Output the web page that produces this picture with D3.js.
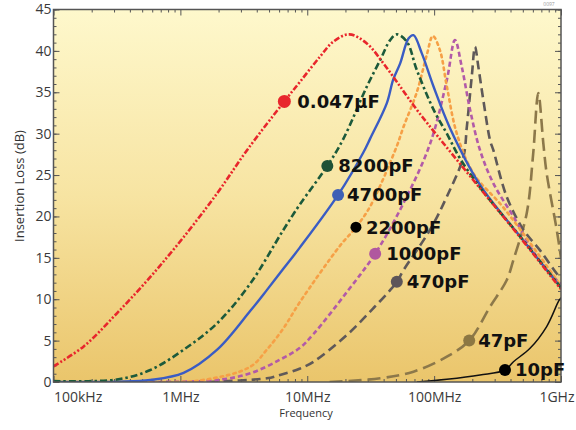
<!DOCTYPE html>
<html><head><meta charset="utf-8">
<script src="https://cdn.jsdelivr.net/npm/d3@7/dist/d3.min.js"></script>
<style>body{margin:0;background:#fff}svg{display:block}</style>
</head><body><svg id="c" width="576" height="430"></svg>
<script>
// ---------- DATA (frequency in MHz, insertion loss in dB) ----------
const seriesNames = ["0.047μF","8200pF","4700pF","2200pF","1000pF","470pF","47pF","10pF"];

const freq047uF = [0.1,0.173,0.316,0.58,1.06,1.95,3.35,6.6,8.8,12.6,16.0,21.4,29.5,39.8,54,73,98,230,475,1000];
const loss047uF = [1.9,4.3,8.3,12.7,17.5,22.8,28.0,33.9,36.3,39.3,41.1,42.0,40.9,38.5,35.7,32.9,30.4,23.4,17.5,11.2];

const freq8200pF = [0.1,0.316,0.58,1.06,1.95,3.56,6.5,8.7,14.4,19.3,29.5,37.6,45,50.8,61,73,99,126,160,230,475,1000];
const loss8200pF = [0.1,0.3,1.45,3.9,7.1,11.9,18.4,21.4,26.1,29.4,35.7,38.9,41.3,42.0,41.1,37.7,32.9,30.0,27.0,23.5,17.6,11.4];

const freq4700pF = [0.1,0.316,0.58,1.06,1.95,3.56,4.8,6.5,8.7,17.5,27.6,31.3,42.4,47.5,54,62.8,68.7,80,98.9,134,230,475,1000];
const loss4700pF = [0,0.05,0.25,1.1,3.9,8.6,11.1,13.7,16.2,22.6,27.7,29.4,33.7,36.5,38.5,41.5,41.9,39.7,35.7,30.6,23.8,17.6,11.4];

const freq2200pF = [0.316,1.44,3.56,4.8,6.5,8.7,18.2,24.2,31.3,50.8,57.3,73,87.5,97.7,111,126,151,204,355,1000];
const loss2200pF = [0,0.2,1.85,3.9,6.5,9.6,16.5,18.7,21.2,28.5,30.8,35.0,39.5,41.8,40.1,35.7,30.0,25.2,21.0,11.6];

const freq1000pF = [0.5,1.95,3.56,6.1,8.7,11.2,20.6,34.3,57.3,93,126,146,165,192,230,293,421,646,925,1000];
const loss1000pF = [0,0.24,1.05,2.7,4.1,5.8,10.9,15.5,21.6,28.8,36.5,41.3,38.1,32.9,28.0,24.0,20.0,15.1,12.3,11.8];

const freq470pF = [1.7,4.8,6.1,8.7,11.2,20.6,33.1,45,50.8,57.3,93,126,170,181,198,210,223,244,276,293,373,505,684,925,1000];
const loss470pF = [0,0.45,0.85,1.6,2.45,5.7,8.9,11.1,12.1,13.5,18.4,22.4,27.2,30.8,36.9,40.5,38.1,34.1,29.2,28.0,22.4,18.4,15.9,13.1,12.5];

const freq47pF = [15,37.6,68.7,126,189,276,373,421,537,603,662,726,771,925,1000];
const loss47pF = [0,0.45,1.25,3.06,5.0,9.1,12.3,14.7,20.4,27.5,34.9,28.8,25.2,18.4,15.0];

const freq10pF = [73,126,230,362,422,570,771,953,1000];
const loss10pF = [0,0.33,0.85,1.45,2.45,4.07,6.7,9.7,10.2];

const markerFreq = [6.6,14.4,17.5,24.2,34.3,50.8,189,362];
const markerLoss = [33.9,26.1,22.6,18.7,15.5,12.1,5.0,1.45];

const xTickValues = [1e5,1e6,1e7,1e8,1e9];
const xTickLabels = ["100kHz","1MHz","10MHz","100MHz","1GHz"];
const yTickValues = [0,5,10,15,20,25,30,35,40,45];

// ---------- STYLE ----------
const lineColors = ["#e8262c","#1c5a3b","#3a5cc4","#f6a046","#b25aa8","#5f5959","#8c784a","#111111"];
const lineDash   = ["6,2,2,2,2,2","7,3,2.5,3","none","2.5,4","5,3","9,5","13,6","none"];
const lineWidth  = [2.6,2.6,2.4,2.6,2.6,2.6,2.6,1.5];
const markerColors = ["#e8262c","#1f5237","#3e5fb5","#000000","#b0579f","#5d5559","#8c7743","#000000"];
const markerR = [6.5,6,6,5.5,6,6,6,6];
const labelDx = [13,11,9,10,11,10,9,10];

const freqs = [freq047uF,freq8200pF,freq4700pF,freq2200pF,freq1000pF,freq470pF,freq47pF,freq10pF];
const losses = [loss047uF,loss8200pF,loss4700pF,loss2200pF,loss1000pF,loss470pF,loss47pF,loss10pF];
const series = seriesNames.map((n,i)=>({name:n,i,pts:freqs[i].map((f,j)=>({f:f*1e6,v:losses[i][j]}))}));

const L=53.5,R=561,T=9.5,B=382;
const x = d3.scaleLog().domain([1e5,1e9]).range([L,R]);
const y = d3.scaleLinear().domain([0,45]).range([B,T]);

const svg = d3.select("#c");
const defs = svg.append("defs");
const grad = defs.append("linearGradient").attr("id","bg").attr("x1",0).attr("y1",0).attr("x2",0).attr("y2",1);
grad.append("stop").attr("offset","0%").attr("stop-color","#fef8cc");
grad.append("stop").attr("offset","50%").attr("stop-color","#f7e4a2");
grad.append("stop").attr("offset","100%").attr("stop-color","#eac56b");
defs.append("clipPath").attr("id","clip").append("rect").attr("x",L).attr("y",T).attr("width",R-L).attr("height",B-T);

svg.append("rect").attr("x",L).attr("y",T).attr("width",R-L).attr("height",B-T).attr("fill","url(#bg)");

// minor ticks
const xMinor=[];
[1e5,1e6,1e7,1e8].forEach(d=>{for(let k=2;k<=9;k++)xMinor.push(d*k);});
const yMinor=d3.range(0,46,1);

function styleAxis(g){
  g.select(".domain").remove();
  g.selectAll(".tick line").attr("stroke","#555").attr("stroke-width",1);
  g.selectAll("text").attr("fill","#3a3a3a").style("font-family","'Open Sans',sans-serif").style("font-size","14px");
}
svg.append("g").attr("transform",`translate(0,${B})`).call(d3.axisBottom(x).tickValues(xMinor).tickFormat("").tickSize(-3)).call(styleAxis);
svg.append("g").attr("transform",`translate(0,${T})`).call(d3.axisTop(x).tickValues(xMinor).tickFormat("").tickSize(-3)).call(styleAxis);
svg.append("g").attr("transform",`translate(0,${T})`).call(d3.axisTop(x).tickValues(xTickValues).tickFormat("").tickSize(-6)).call(styleAxis);
const xb = svg.append("g").attr("transform",`translate(0,${B})`)
  .call(d3.axisBottom(x).tickValues(xTickValues).tickFormat((d,i)=>xTickLabels[i]).tickSize(-6).tickPadding(10)).call(styleAxis);
xb.selectAll(".tick text").each(function(d,i){
  const t=d3.select(this);
  if(i===0) t.attr("text-anchor","start").attr("dx",0);
  else if(i===xTickValues.length-1) t.attr("text-anchor","end").attr("dx",13);
});
svg.append("g").attr("transform",`translate(${L},0)`).call(d3.axisLeft(y).tickValues(yMinor).tickFormat("").tickSize(-3)).call(styleAxis);
svg.append("g").attr("transform",`translate(${R},0)`).call(d3.axisRight(y).tickValues(yMinor).tickFormat("").tickSize(-3)).call(styleAxis);
svg.append("g").attr("transform",`translate(${R},0)`).call(d3.axisRight(y).tickValues(yTickValues).tickFormat("").tickSize(-6)).call(styleAxis);
svg.append("g").attr("transform",`translate(${L},0)`).call(d3.axisLeft(y).tickValues(yTickValues).tickSize(-6).tickPadding(2)).call(styleAxis);

// curves
const line = d3.line().x(d=>x(d.f)).y(d=>y(d.v)).curve(d3.curveCatmullRom.alpha(0.5));
const order=[7,6,5,4,3,2,1,0];
const cg = svg.append("g").attr("clip-path","url(#clip)");
order.forEach(i=>{
  cg.append("path").datum(series[i].pts).attr("d",line).attr("fill","none")
    .attr("stroke",lineColors[i]).attr("stroke-width",lineWidth[i])
    .attr("stroke-dasharray",lineDash[i]).attr("stroke-linecap", i===3?"round":"butt")
    .attr("stroke-linejoin","round");
});

// frame
svg.append("rect").attr("x",L).attr("y",T).attr("width",R-L).attr("height",B-T)
  .attr("fill","none").attr("stroke","#555").attr("stroke-width",1.5);

// markers + labels
seriesNames.forEach((n,i)=>{
  const cx=x(markerFreq[i]*1e6), cy=y(markerLoss[i]);
  svg.append("circle").attr("cx",cx).attr("cy",cy).attr("r",markerR[i]).attr("fill",markerColors[i]);
  svg.append("text").attr("x",cx+labelDx[i]).attr("y",cy).attr("dy","0.36em")
    .style("font-family","'DejaVu Sans',sans-serif").style("font-weight","bold").style("font-size","18px")
    .attr("fill","#111").text(n);
});

// axis titles
svg.append("text").attr("transform","translate(19,186) rotate(-90)").attr("text-anchor","middle")
  .attr("dy","0.35em").style("font-family","'Open Sans',sans-serif").style("font-size","13px").attr("fill","#333")
  .text("Insertion Loss (dB)");
svg.append("text").attr("x",306).attr("y",417).attr("text-anchor","middle")
  .style("font-family","'Open Sans',sans-serif").style("font-size","11px").attr("fill","#333").text("Frequency");
svg.append("text").attr("x",549).attr("y",6).attr("text-anchor","middle")
  .style("font-family","'Open Sans',sans-serif").style("font-size","5px").attr("fill","#9a9a9a").text("0097");
</script>
</body></html>
